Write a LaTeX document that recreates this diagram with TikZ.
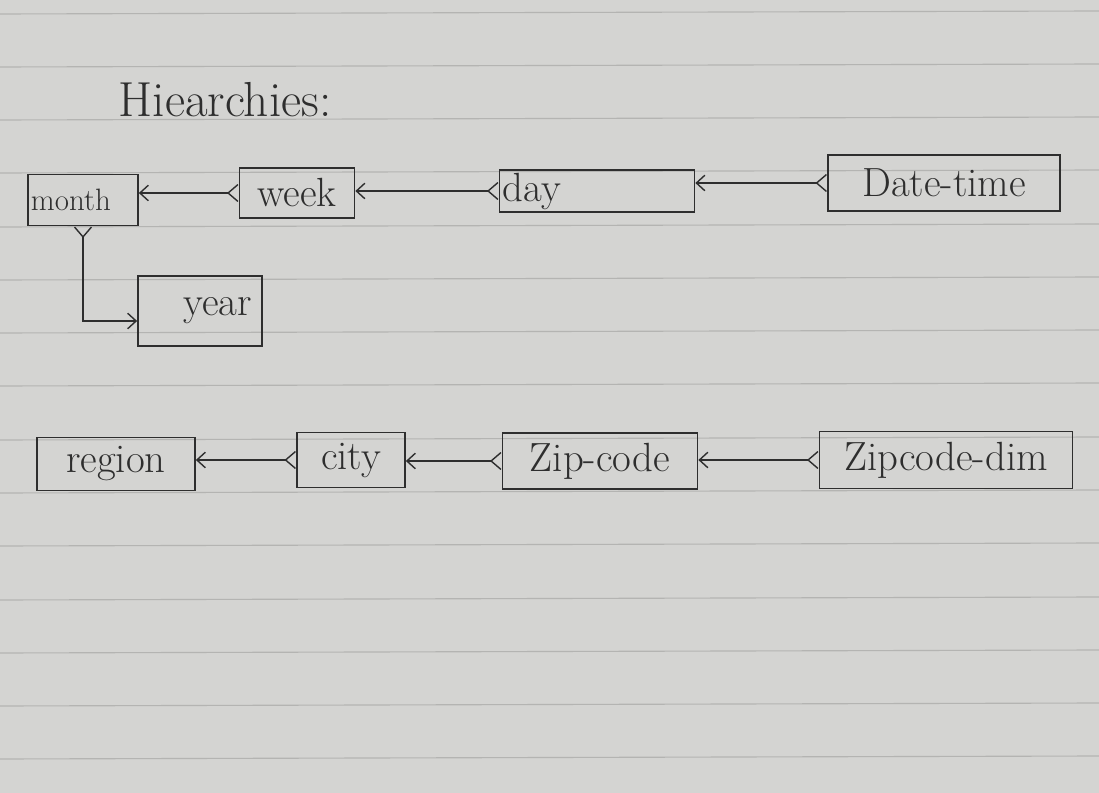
\documentclass[tikz,border=0pt]{standalone}
\usetikzlibrary{arrows.meta}
\definecolor{paper}{HTML}{D4D4D2}
\definecolor{rule}{HTML}{B4B4B2}
\definecolor{ink}{HTML}{2E2E2E}
\tikzset{
  ent/.style 2 args={draw=ink, line width=1.2pt, minimum width=#1*0.025cm,
    minimum height=#2*0.025cm, inner sep=1pt, text=ink,
    font=\fontsize{29}{32}\selectfont},
  rel/.style={draw=ink, line width=1pt,
    {Straight Barb[reversed,length=7pt,width=12pt]}-{Straight Barb[length=6pt,width=11pt]}},
  ruling/.style={draw=rule, line width=0.8pt}
}
\begin{document}
\begin{tikzpicture}[x=0.025cm, y=-0.025cm]
\fill[paper] (0,0) rectangle (1099,793);
\useasboundingbox (0,0) rectangle (1099,793);
\foreach \yy in {14,67,120,173,227,280,333,386,440,493,546,600,653,706,759}
  \draw[ruling] (0,\yy) -- (1099,\yy-3);

\node[text=ink, font=\fontsize{35}{38}\selectfont] (title) at (225,100) {Hiearchies:};

% time hierarchy
\node[ent={110}{51}, text width=2.6cm, align=left, font=\fontsize{22}{24}\selectfont] (month) at (83,200) {month};
\node[ent={115}{50}] (week) at (297,193) {week};
\node[ent={195}{42}, text width=4.7cm, align=left] (day) at (597,191) {day};
\node[ent={232}{56}] (dt) at (944,183) {Date-time};
\node[ent={124}{70}, text width=2.6cm, align=right] (year) at (200,311) {year};

\draw[rel] (week.west) -- (week.west -| month.east);
\draw[rel] (day.west) -- (day.west -| week.east);
\draw[rel] (dt.west) -- (dt.west -| day.east);
\draw[rel] (month.south) |- ([yshift=-0.25cm]year.west);

% location hierarchy
\node[ent={158}{53}] (region) at (116,464) {region};
\node[ent={108}{55}] (city) at (351,460) {city};
\node[ent={195}{56}] (zip) at (600,461) {Zip-code};
\node[ent={253}{57}] (zipdim) at (946,460) {Zipcode-dim};

\draw[rel] (city.west) -- (city.west -| region.east);
\draw[rel] (zip.west) -- (zip.west -| city.east);
\draw[rel] (zipdim.west) -- (zipdim.west -| zip.east);
\end{tikzpicture}
\end{document}
